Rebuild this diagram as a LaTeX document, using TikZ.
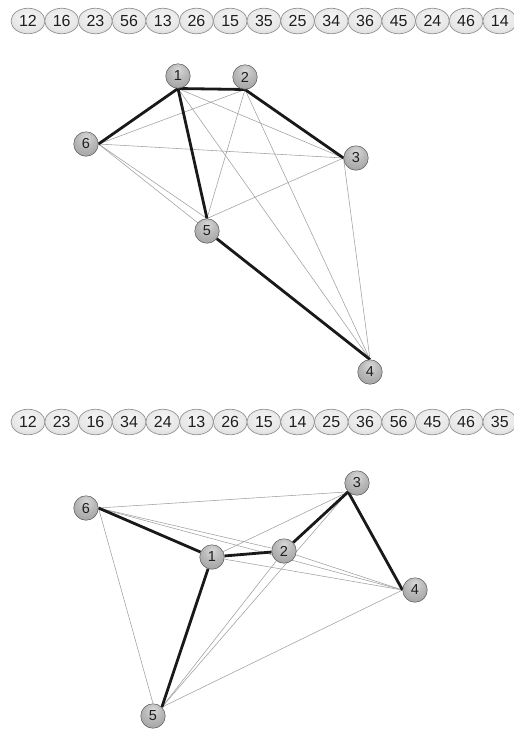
\documentclass[tikz,border=0pt]{standalone}
\usepackage{fontspec}
\setmainfont{Liberation Sans}
\usetikzlibrary{shapes.geometric}
\pgfdeclarelayer{bg}
\pgfsetlayers{bg,main}
\pgfdeclareradialshading{sphere}{\pgfpoint{0bp}{14bp}}{color(0bp)=(gray!30); color(18bp)=(gray!55); color(40bp)=(gray!78); color(56bp)=(gray!88); color(80bp)=(gray!90)}
\pgfdeclareradialshading{pillshade}{\pgfpoint{0bp}{8bp}}{color(0bp)=(gray!8); color(22bp)=(gray!18); color(40bp)=(gray!38); color(52bp)=(gray!55); color(80bp)=(gray!60)}
\begin{document}
\begin{tikzpicture}[x=1pt,y=-1pt,
  pill/.style={ellipse, minimum width=34pt, minimum height=25.5pt, inner sep=0pt,
    shading=pillshade, draw=gray!85, line width=0.7pt, text=black!88,
    font=\fontsize{16}{16}\selectfont},
  ball/.style={circle, minimum size=24.5pt, inner sep=0pt, shading=sphere,
    draw=gray!70!black, line width=0.5pt, text=black!88,
    font=\fontsize{14.5}{14.5}\selectfont},
  thickedge/.style={line width=2.8pt, black!90},
  thinedge/.style={line width=0.55pt, gray!75}]
\useasboundingbox (0,0) rectangle (514,729);

% top row of pills
\foreach \t [count=\i from 0] in {12,16,23,56,13,26,15,35,25,34,36,45,24,46,14}
  \node[pill] (top\i) at ({28+33.7*\i},21) {\t};

% bottom row of pills
\foreach \t [count=\i from 0] in {12,23,16,34,24,13,26,15,14,25,36,56,45,46,35}
  \node[pill] (bot\i) at ({28+33.7*\i},422) {\t};

% top graph
\node[ball] (a1) at (178,76) {1};
\node[ball] (a2) at (245,77) {2};
\node[ball] (a6) at (86,144) {6};
\node[ball] (a3) at (356,158) {3};
\node[ball] (a5) at (207,231) {5};
\node[ball] (a4) at (370,372) {4};

\begin{pgfonlayer}{bg}
  \draw[thinedge] (a1.south) -- (a3.west);
  \draw[thinedge] (a1.south) -- (a4.north);
  \draw[thinedge] (a2.south) -- (a6.east);
  \draw[thinedge] (a2.south) -- (a5.north);
  \draw[thinedge] (a2.south) -- (a4.north);
  \draw[thinedge] (a6.east) -- (a3.west);
  \draw[thinedge] (a6.east) -- (a5.north);
  \draw[thinedge] (a6.east) -- (a4.north);
  \draw[thinedge] (a3.west) -- (a5.north);
  \draw[thinedge] (a3.west) -- (a4.north);
  \draw[thickedge] (a1.south) -- (a2.south);
  \draw[thickedge] (a1.south) -- (a6.east);
  \draw[thickedge] (a2.south) -- (a3.west);
  \draw[thickedge] (a1.south) -- (a5.north);
  \draw[thickedge] (a5) -- (a4.north);
\end{pgfonlayer}

% bottom graph
\node[ball] (b6) at (86,508) {6};
\node[ball] (b3) at (357,483) {3};
\node[ball] (b1) at (212,557) {1};
\node[ball] (b2) at (284,551) {2};
\node[ball] (b4) at (415,590) {4};
\node[ball] (b5) at (153,716) {5};

\begin{pgfonlayer}{bg}
  \draw[thinedge] (b6.east) -- (b3.south west);
  \draw[thinedge] (b6.east) -- (b2);
  \draw[thinedge] (b6.east) -- (b4.west);
  \draw[thinedge] (b6.east) -- (b5.north);
  \draw[thinedge] (b1) -- (b3.south west);
  \draw[thinedge] (b1) -- (b4.west);
  \draw[thinedge] (b2) -- (b4.west);
  \draw[thinedge] (b2) -- (b5.north east);
  \draw[thinedge] (b3.south west) -- (b5.north east);
  \draw[thinedge] (b4.west) -- (b5.north east);
  \draw[thickedge] (b6.east) -- (b1);
  \draw[thickedge] (b1) -- (b2);
  \draw[thickedge] (b2) -- (b3.south west);
  \draw[thickedge] (b3.south west) -- (b4.west);
  \draw[thickedge] (b1) -- (b5.north east);
\end{pgfonlayer}
\end{tikzpicture}
\end{document}
